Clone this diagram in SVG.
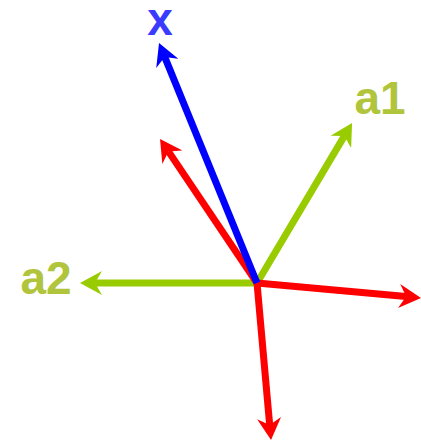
<svg xmlns="http://www.w3.org/2000/svg" width="421" height="441" viewBox="0 0 421 441">
<style>
.g{stroke:#99cc00}.r{stroke:#ff0000}.b{stroke:#0000ff}
line{stroke-width:7;fill:none}
text{font-family:"Liberation Sans",Arial,sans-serif;font-weight:bold;font-size:46px}
.lg{fill:#b0c43c}.lb{fill:#3b3bff}
</style>
<defs>
<marker id="mg" viewBox="-7 -12 22 24" refX="0" refY="0" markerWidth="22" markerHeight="24" markerUnits="userSpaceOnUse" orient="auto"><path d="M-7,-12 L15,0 L-7,12 L0,0 Z" fill="#99cc00"/></marker>
<marker id="mr" viewBox="-7 -12 22 24" refX="0" refY="0" markerWidth="22" markerHeight="24" markerUnits="userSpaceOnUse" orient="auto"><path d="M-7,-12 L15,0 L-7,12 L0,0 Z" fill="#ff0000"/></marker>
<marker id="mb" viewBox="-7 -12 22 24" refX="0" refY="0" markerWidth="22" markerHeight="24" markerUnits="userSpaceOnUse" orient="auto"><path d="M-7,-12 L15,0 L-7,12 L0,0 Z" fill="#0000ff"/></marker>
</defs>
<g id="connectors">
<line class="g" x1="257" y1="283" x2="95" y2="283" marker-end="url(#mg)"/>
<line class="g" x1="257" y1="283" x2="344.4" y2="135.9" marker-end="url(#mg)"/>
<line class="r" x1="257" y1="283" x2="168.4" y2="151.4" marker-end="url(#mr)"/>
<line class="r" x1="257" y1="283" x2="406.1" y2="296.6" marker-end="url(#mr)"/>
<line class="r" x1="257" y1="283" x2="269.7" y2="425.1" marker-end="url(#mr)"/>
<line class="b" x1="257" y1="283" x2="164.7" y2="56.9" marker-end="url(#mb)"/>
</g>
<g id="label-x"><text class="lb" x="160" y="35" text-anchor="middle">x</text></g>
<g id="label-a1"><text class="lg" x="380" y="114" text-anchor="middle">a1</text></g>
<g id="label-a2"><text class="lg" x="46" y="294" text-anchor="middle">a2</text></g>
</svg>
